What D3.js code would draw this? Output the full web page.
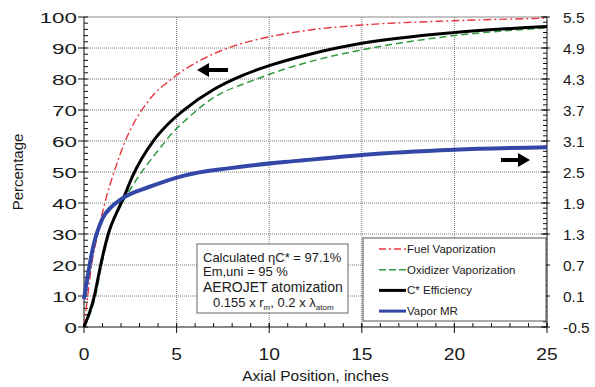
<!DOCTYPE html>
<html>
<head>
<meta charset="utf-8">
<script src="https://cdn.jsdelivr.net/npm/d3@7"></script>
<style>
  body { margin: 0; background: #fff; }
  text { font-family: "Liberation Sans", Arial, sans-serif; fill: #1a1a1a; }
</style>
</head>
<body>
<div id="chart"></div>
<script>
// Chart size
const width = 595, height = 387;
const margin = { top: 17, right: 48, bottom: 60, left: 84 };

// Data
const xTicks = [0, 5, 10, 15, 20, 25];
const yTicks = [0, 10, 20, 30, 40, 50, 60, 70, 80, 90, 100];
const rightTicks = [-0.5, 0.1, 0.7, 1.3, 1.9, 2.5, 3.1, 3.7, 4.3, 4.9, 5.5];

const fuelX = [0, 0.2, 0.41, 0.74, 1.08, 1.71, 2.16, 3.42, 4.73, 6.3, 7.88, 10, 12.2, 15, 20, 25];
const fuelY = [0, 10, 20, 30, 39, 51.5, 59, 72.5, 80, 86.1, 90.2, 93.6, 95.8, 97.4, 98.8, 99.6];

const oxX = [0, 0.62, 0.95, 1.35, 2.07, 2.7, 4.14, 4.91, 5.3, 6.8, 9.33, 12.2, 15, 20, 25];
const oxY = [0, 10, 20, 30, 40, 46.3, 58, 63.5, 65.7, 73.2, 80, 85.6, 89.4, 94, 96.5];

const cstarX = [0, 0.56, 0.9, 1.31, 1.89, 2.16, 2.61, 3.78, 4.46, 5.4, 7.0, 8.5, 10, 12.2, 15, 20, 25];
const cstarY = [0, 10, 20, 30, 38.5, 42, 48.5, 60.3, 65, 70, 76.6, 81, 84.3, 88, 91.5, 95, 96.9];

// vapor mixture ratio, right axis
const mrX = [0, 0.5, 1.0, 1.5, 2.07, 3.6, 5.4, 8, 11.66, 15, 20, 25];
const mrY = [0.04, 1.06, 1.6, 1.83, 1.99, 2.22, 2.43, 2.58, 2.72, 2.83, 2.93, 2.98];

const legendNames = ["Fuel Vaporization", "Oxidizer Vaporization", "C* Efficiency", "Vapor MR"];

// Scales
const x = d3.scaleLinear().domain([0, 25]).range([margin.left, width - margin.right]);
const y = d3.scaleLinear().domain([0, 100]).range([height - margin.bottom, margin.top]);
const yR = d3.scaleLinear().domain([-0.5, 5.5]).range([height - margin.bottom, margin.top]);

const svg = d3.select("#chart").append("svg")
    .attr("width", width)
    .attr("height", height);

const x0 = x(0), x1 = x(25), yb = y(0), yt = y(100);

// Grid
const grid = svg.append("g").attr("stroke", "#777").attr("stroke-dasharray", "1,1");
grid.selectAll("line.v").data(xTicks.slice(1, -1)).join("line")
    .attr("x1", d => x(d)).attr("x2", d => x(d)).attr("y1", yt).attr("y2", yb);
grid.selectAll("line.h").data(yTicks.slice(1, -1)).join("line")
    .attr("y1", d => y(d)).attr("y2", d => y(d)).attr("x1", x0).attr("x2", x1);

// top frame
svg.append("line").attr("x1", x0).attr("x2", x1).attr("y1", yt).attr("y2", yt)
    .attr("stroke", "#888");

// Axes lines
const axes = svg.append("g").attr("stroke", "#111").attr("stroke-width", 1);
axes.append("line").attr("x1", x0).attr("x2", x0).attr("y1", yt).attr("y2", yb);
axes.append("line").attr("x1", x1).attr("x2", x1).attr("y1", yt).attr("y2", yb);
axes.append("line").attr("x1", x0).attr("x2", x1).attr("y1", yb).attr("y2", yb);

// left ticks
axes.selectAll("line.lmaj").data(yTicks).join("line")
    .attr("x1", x0 - 6).attr("x2", x0).attr("y1", d => y(d)).attr("y2", d => y(d));
axes.selectAll("line.lmin").data(d3.range(0, 101, 2)).join("line")
    .attr("x1", x0).attr("x2", x0 + 4).attr("y1", d => y(d)).attr("y2", d => y(d));

// bottom ticks
axes.selectAll("line.bmaj").data(xTicks).join("line")
    .attr("x1", d => x(d)).attr("x2", d => x(d)).attr("y1", yb - 4).attr("y2", yb + 6);
axes.selectAll("line.bmin").data(d3.range(0, 26, 1)).join("line")
    .attr("x1", d => x(d)).attr("x2", d => x(d)).attr("y1", yb - 4).attr("y2", yb);

// right ticks
axes.selectAll("line.rmaj").data(rightTicks).join("line")
    .attr("x1", x1 - 6).attr("x2", x1 + 3).attr("y1", d => yR(d)).attr("y2", d => yR(d));
axes.selectAll("line.rmin").data(d3.range(-0.5, 5.51, 0.1)).join("line")
    .attr("x1", x1 - 4).attr("x2", x1).attr("y1", d => yR(d)).attr("y2", d => yR(d));

// Tick labels
svg.append("g").selectAll("text").data(yTicks).join("text")
    .attr("transform", d => `translate(${x0 - 7},${y(d)}) scale(1.45,1)`)
    .attr("text-anchor", "end").attr("dy", "0.36em")
    .style("font-size", "15.5px")
    .text(d => d);

svg.append("g").selectAll("text").data(rightTicks).join("text")
    .attr("x", x1 + 16).attr("y", d => yR(d)).attr("dy", "0.36em")
    .style("font-size", "15.5px")
    .text(d => d.toFixed(1));

svg.append("g").selectAll("text").data(xTicks).join("text")
    .attr("x", d => x(d)).attr("y", yb + 33)
    .attr("text-anchor", "middle")
    .style("font-size", "16px")
    .attr("transform-origin", d => `${x(d)} ${yb + 27}`)
    .attr("transform", "scale(1.2,1)")
    .text(d => d);

// Axis titles
svg.append("text")
    .attr("transform", `translate(23,${(yt + yb) / 2}) rotate(-90)`)
    .attr("text-anchor", "middle")
    .style("font-size", "15px")
    .text("Percentage");

svg.append("text")
    .attr("x", (x0 + x1) / 2).attr("y", 381)
    .attr("text-anchor", "middle")
    .style("font-size", "15.5px")
    .text("Axial Position, inches");

// Series
const lineP = d3.line().curve(d3.curveMonotoneX);

const series = [
  { xs: fuelX, ys: fuelY, sc: y, color: "#e8363c", w: 1.4, dash: "8,3,2,3" },
  { xs: oxX, ys: oxY, sc: y, color: "#2e9a3e", w: 1.5, dash: "7,4" },
  { xs: cstarX, ys: cstarY, sc: y, color: "#000", w: 3, dash: null },
  { xs: mrX, ys: mrY, sc: yR, color: "#3347a6", w: 4, dash: null }
];

series.forEach(s => {
  const pts = s.xs.map((v, j) => [x(v), s.sc(s.ys[j])]);
  svg.append("path")
      .attr("d", lineP(pts))
      .attr("fill", "none")
      .attr("stroke", s.color)
      .attr("stroke-width", s.w)
      .attr("stroke-dasharray", s.dash)
      .attr("stroke-linejoin", "round");
});

// Arrows pointing to each axis
function arrow(tipX, tailX, cy) {
  const dir = Math.sign(tailX - tipX);
  const hx = tipX + dir * 12;
  svg.append("path")
      .attr("d", `M${tipX},${cy} L${hx},${cy - 7} L${hx},${cy - 2} L${tailX},${cy - 2} L${tailX},${cy + 2} L${hx},${cy + 2} L${hx},${cy + 7} Z`)
      .attr("fill", "#000");
}
arrow(197, 228, 70);
arrow(530, 501, 160);

// Annotation box
const note = svg.append("g");
note.append("rect")
    .attr("x", 197).attr("y", 244).attr("width", 151).attr("height", 69)
    .attr("fill", "#fff").attr("stroke", "#666");
note.append("text").attr("x", 203).attr("y", 262).style("font-size", "13px")
    .text("Calculated ηC* = 97.1%");
note.append("text").attr("x", 203).attr("y", 276).style("font-size", "13px").text("Em,uni = 95 %");
note.append("text").attr("x", 203).attr("y", 292).style("font-size", "14px").text("AEROJET atomization");
const t4 = note.append("text").attr("x", 213).attr("y", 307).style("font-size", "13px");
t4.append("tspan").text("0.155 x r");
t4.append("tspan").attr("dy", 3).style("font-size", "8px").text("m");
t4.append("tspan").attr("dy", -3).text(", 0.2 x λ");
t4.append("tspan").attr("dy", 3).style("font-size", "8px").text("atom");

// Legend
const leg = svg.append("g");
leg.append("rect")
    .attr("x", 363).attr("y", 238).attr("width", 183).attr("height", 83)
    .attr("fill", "#fff").attr("stroke", "#555");
legendNames.forEach((name, i) => {
  const s = series[i];
  const ly = 249 + i * 20.7;
  leg.append("line")
      .attr("x1", 379).attr("x2", 406).attr("y1", ly).attr("y2", ly)
      .attr("stroke", s.color).attr("stroke-width", Math.min(s.w, 3))
      .attr("stroke-dasharray", i === 0 ? "7,3,2,3" : (i === 1 ? "7,3" : null));
  leg.append("text")
      .attr("x", 407).attr("y", ly).attr("dy", "0.35em")
      .style("font-size", "11.5px")
      .text(name);
});
</script>
</body>
</html>
